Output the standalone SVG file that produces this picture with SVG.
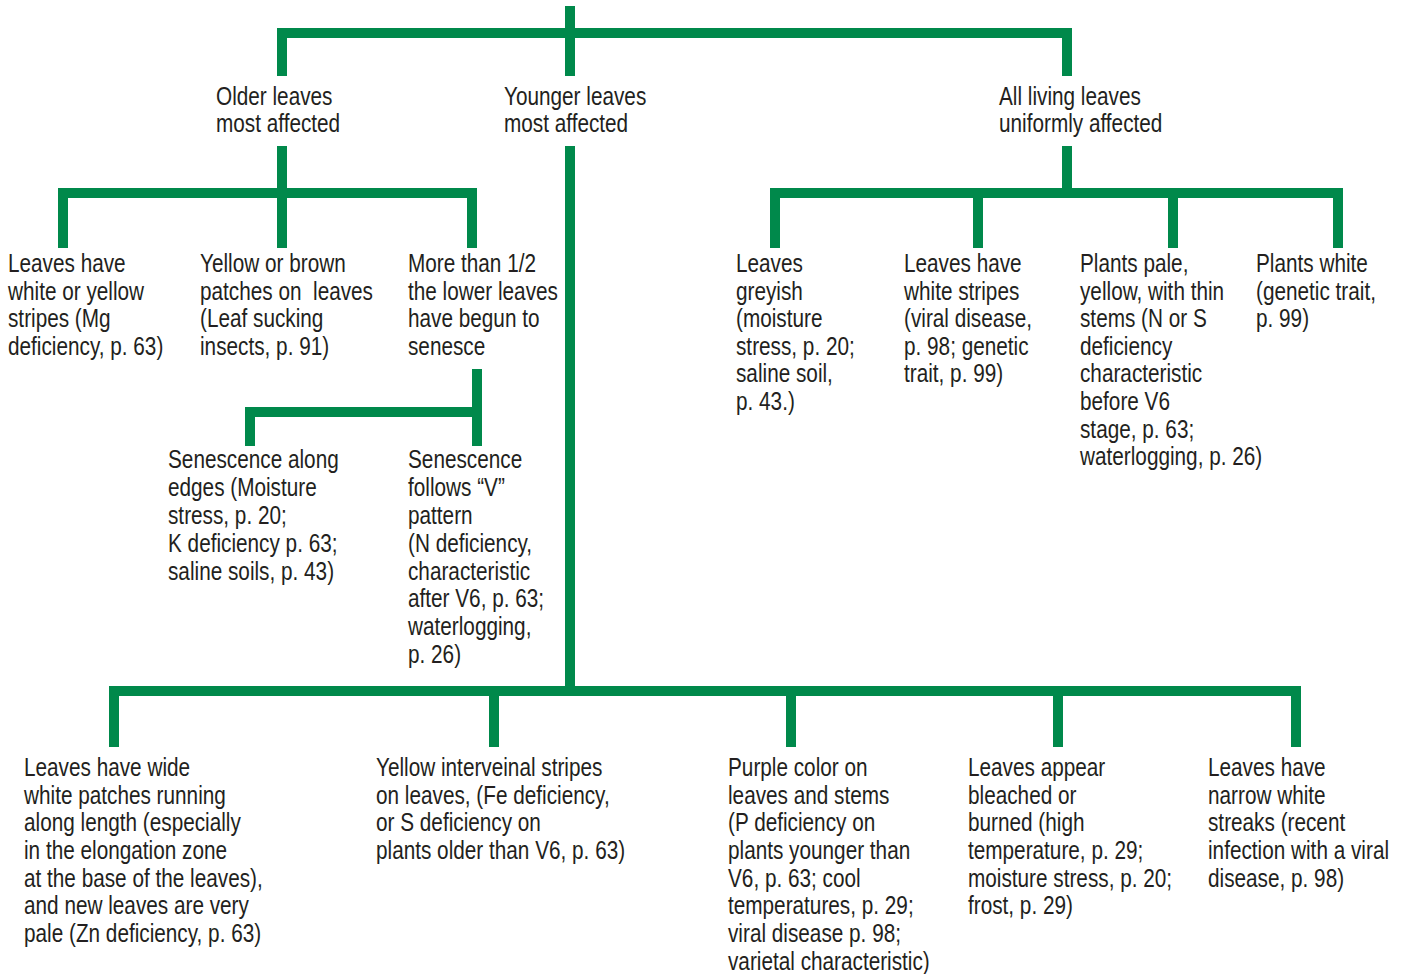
<svg xmlns="http://www.w3.org/2000/svg" width="1402" height="974" viewBox="0 0 1402 974">
<style>
.c{fill:none;stroke:#00894b;stroke-width:10;stroke-linecap:butt;stroke-linejoin:miter}
text{font-family:"Liberation Sans",Arial,sans-serif;font-size:25px;fill:#231f20}
</style>
<rect width="1402" height="974" fill="#fff"/>
<g id="connectors">
<path class="c" d="M570,6V76"/>
<path class="c" d="M282,76V33H1067V76"/>
<path class="c" d="M282,146V248"/>
<path class="c" d="M63,248V193H472V248"/>
<path class="c" d="M570,146V691"/>
<path class="c" d="M477,369V446"/>
<path class="c" d="M250,446V412H477"/>
<path class="c" d="M1067,146V193"/>
<path class="c" d="M775,248V193H1338V248"/>
<path class="c" d="M978,193V248"/>
<path class="c" d="M1173,193V248"/>
<path class="c" d="M114,747V691H1296V747"/>
<path class="c" d="M494,691V747"/>
<path class="c" d="M791,691V747"/>
<path class="c" d="M1058,691V747"/>
</g>
<g id="older"><text transform="matrix(0.83 0 0 1 216 0)" y="105">Older leaves<tspan x="0" dy="27">most affected</tspan></text></g>
<g id="younger"><text transform="matrix(0.83 0 0 1 504 0)" y="105">Younger leaves<tspan x="0" dy="27">most affected</tspan></text></g>
<g id="uniform"><text transform="matrix(0.83 0 0 1 999 0)" y="105">All living leaves<tspan x="0" dy="27">uniformly affected</tspan></text></g>

<g id="mg"><text transform="matrix(0.83 0 0 1 8 0)" y="272">Leaves have<tspan x="0" dy="27.6">white or yellow</tspan><tspan x="0" dy="27.6">stripes (Mg</tspan><tspan x="0" dy="27.6">deficiency, p. 63)</tspan></text></g>
<g id="insects"><text transform="matrix(0.83 0 0 1 200 0)" y="272">Yellow or brown<tspan x="0" dy="27.6" xml:space="preserve">patches on  leaves</tspan><tspan x="0" dy="27.6">(Leaf sucking</tspan><tspan x="0" dy="27.6">insects, p. 91)</tspan></text></g>
<g id="senesce"><text transform="matrix(0.83 0 0 1 408 0)" y="272">More than 1/2<tspan x="0" dy="27.6">the lower leaves</tspan><tspan x="0" dy="27.6">have begun to</tspan><tspan x="0" dy="27.6">senesce</tspan></text></g>

<g id="edges"><text transform="matrix(0.83 0 0 1 168 0)" y="468">Senescence along<tspan x="0" dy="27.9">edges (Moisture</tspan><tspan x="0" dy="27.9">stress, p. 20;</tspan><tspan x="0" dy="27.9">K deficiency p. 63;</tspan><tspan x="0" dy="27.9">saline soils, p. 43)</tspan></text></g>
<g id="vpattern"><text transform="matrix(0.83 0 0 1 408 0)" y="468">Senescence<tspan x="0" dy="27.9">follows “V”</tspan><tspan x="0" dy="27.9">pattern</tspan><tspan x="0" dy="27.9">(N deficiency,</tspan><tspan x="0" dy="27.9">characteristic</tspan><tspan x="0" dy="27.9">after V6, p. 63;</tspan><tspan x="0" dy="27.9">waterlogging,</tspan><tspan x="0" dy="27.9">p. 26)</tspan></text></g>

<g id="greyish"><text transform="matrix(0.83 0 0 1 736 0)" y="272">Leaves<tspan x="0" dy="27.6">greyish</tspan><tspan x="0" dy="27.6">(moisture</tspan><tspan x="0" dy="27.6">stress, p. 20;</tspan><tspan x="0" dy="27.6">saline soil,</tspan><tspan x="0" dy="27.6">p. 43.)</tspan></text></g>
<g id="whitestripes"><text transform="matrix(0.83 0 0 1 904 0)" y="272">Leaves have<tspan x="0" dy="27.6">white stripes</tspan><tspan x="0" dy="27.6">(viral disease,</tspan><tspan x="0" dy="27.6">p. 98; genetic</tspan><tspan x="0" dy="27.6">trait, p. 99)</tspan></text></g>
<g id="pale"><text transform="matrix(0.83 0 0 1 1080 0)" y="272">Plants pale,<tspan x="0" dy="27.6">yellow, with thin</tspan><tspan x="0" dy="27.6">stems (N or S</tspan><tspan x="0" dy="27.6">deficiency</tspan><tspan x="0" dy="27.6">characteristic</tspan><tspan x="0" dy="27.6">before V6</tspan><tspan x="0" dy="27.6">stage, p. 63;</tspan><tspan x="0" dy="27.6">waterlogging, p. 26)</tspan></text></g>
<g id="plantswhite"><text transform="matrix(0.83 0 0 1 1256 0)" y="272">Plants white<tspan x="0" dy="27.6">(genetic trait,</tspan><tspan x="0" dy="27.6">p. 99)</tspan></text></g>

<g id="zn"><text transform="matrix(0.83 0 0 1 24 0)" y="776">Leaves have wide<tspan x="0" dy="27.7">white patches running</tspan><tspan x="0" dy="27.7">along length (especially</tspan><tspan x="0" dy="27.7">in the elongation zone</tspan><tspan x="0" dy="27.7">at the base of the leaves),</tspan><tspan x="0" dy="27.7">and new leaves are very</tspan><tspan x="0" dy="27.7">pale (Zn deficiency, p. 63)</tspan></text></g>
<g id="fe"><text transform="matrix(0.83 0 0 1 376 0)" y="776">Yellow interveinal stripes<tspan x="0" dy="27.7">on leaves, (Fe deficiency,</tspan><tspan x="0" dy="27.7">or S deficiency on</tspan><tspan x="0" dy="27.7">plants older than V6, p. 63)</tspan></text></g>
<g id="purple"><text transform="matrix(0.83 0 0 1 728 0)" y="776">Purple color on<tspan x="0" dy="27.7">leaves and stems</tspan><tspan x="0" dy="27.7">(P deficiency on</tspan><tspan x="0" dy="27.7">plants younger than</tspan><tspan x="0" dy="27.7">V6, p. 63; cool</tspan><tspan x="0" dy="27.7">temperatures, p. 29;</tspan><tspan x="0" dy="27.7">viral disease p. 98;</tspan><tspan x="0" dy="27.7">varietal characteristic)</tspan></text></g>
<g id="bleached"><text transform="matrix(0.83 0 0 1 968 0)" y="776">Leaves appear<tspan x="0" dy="27.7">bleached or</tspan><tspan x="0" dy="27.7">burned (high</tspan><tspan x="0" dy="27.7">temperature, p. 29;</tspan><tspan x="0" dy="27.7">moisture stress, p. 20;</tspan><tspan x="0" dy="27.7">frost, p. 29)</tspan></text></g>
<g id="streaks"><text transform="matrix(0.83 0 0 1 1208 0)" y="776">Leaves have<tspan x="0" dy="27.7">narrow white</tspan><tspan x="0" dy="27.7">streaks (recent</tspan><tspan x="0" dy="27.7">infection with a viral</tspan><tspan x="0" dy="27.7">disease, p. 98)</tspan></text></g>
</svg>
